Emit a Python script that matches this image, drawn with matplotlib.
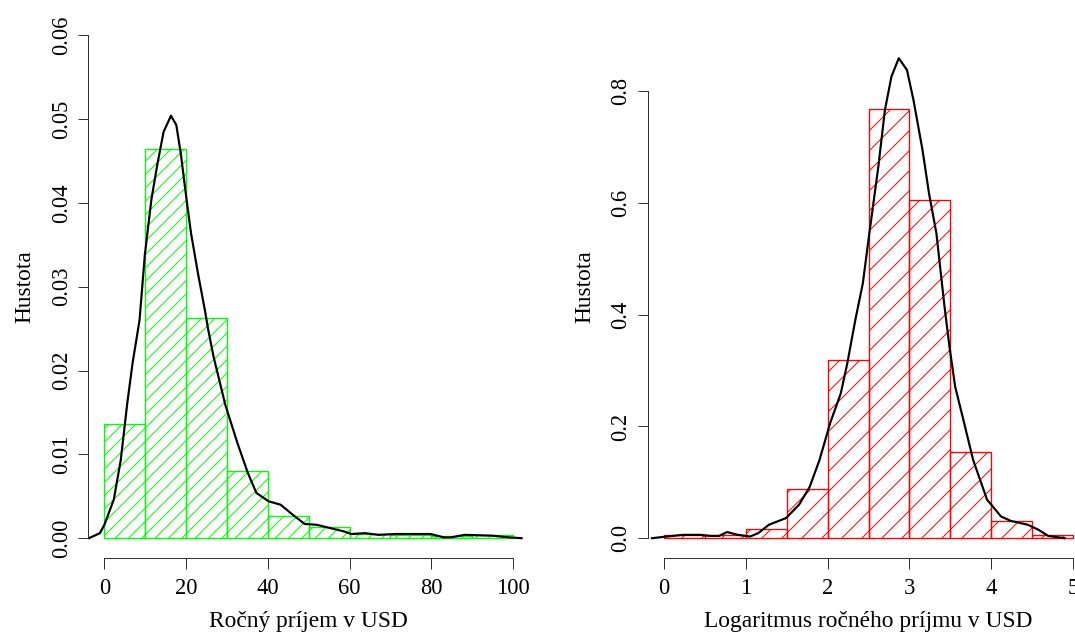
import numpy as np
from matplotlib import pyplot as plt

plt.rcParams['font.family'] = ['Liberation Serif', 'DejaVu Serif']
plt.rcParams['hatch.linewidth'] = 0.6

# histogram bins and densities
bins_inc = [0, 10, 20, 30, 40, 50, 60, 70, 80, 90, 100]
dens_inc = [0.0136, 0.04646, 0.02632, 0.00803, 0.0027, 0.00131, 0.0005, 0.0004, 0.0003, 0.0004]

bins_log = [0, 0.5, 1.0, 1.5, 2.0, 2.5, 3.0, 3.5, 4.0, 4.5, 5.0]
dens_log = [0.005, 0.005, 0.016, 0.0877, 0.3184, 0.768, 0.605, 0.1538, 0.031, 0.0054]

# kernel density curves
kde_inc_x = [-3.8, -1.1, 0, 2.3, 4.0, 5.6, 6.9, 8.6, 9.9, 11.5, 13.0, 14.5, 16.3, 17.6, 18.7,
             20.0, 21.2, 22.9, 24.6, 25.4, 26.7, 29.6, 32.6, 35.1, 37.2, 40.2, 43.1, 46.1,
             49.0, 52.0, 55.3, 58.7, 60.4, 63.8, 67.1, 71.4, 79.8, 83.1, 84.8, 88.2, 94.9,
             99.1, 102.1]
kde_inc_y = [0, 0.0006, 0.0016, 0.0046, 0.0093, 0.0161, 0.0209, 0.0260, 0.0338, 0.0404,
             0.0447, 0.0485, 0.0504, 0.0493, 0.0459, 0.0408, 0.0364, 0.0316, 0.0272, 0.0249,
             0.0217, 0.0159, 0.0113, 0.0078, 0.0054, 0.0044, 0.0040, 0.0028, 0.0017, 0.0016,
             0.0012, 0.0008, 0.0005, 0.0006, 0.0004, 0.0005, 0.0005, 0.0001, 0.0001, 0.0004,
             0.0003, 0.0001, 0]

kde_log_x = [-0.15, 0.03, 0.23, 0.44, 0.57, 0.67, 0.77, 0.90, 1.05, 1.15, 1.28, 1.49, 1.65,
             1.78, 1.90, 2.03, 2.16, 2.24, 2.34, 2.43, 2.51, 2.62, 2.70, 2.78, 2.87, 2.97,
             3.05, 3.16, 3.24, 3.33, 3.43, 3.49, 3.56, 3.66, 3.78, 3.95, 4.12, 4.24, 4.45,
             4.58, 4.70, 4.90]
kde_log_y = [0, 0.003, 0.006, 0.006, 0.004, 0.004, 0.011, 0.006, 0.003, 0.009, 0.024, 0.036,
             0.060, 0.092, 0.140, 0.206, 0.259, 0.313, 0.392, 0.456, 0.546, 0.665, 0.766,
             0.826, 0.859, 0.838, 0.784, 0.695, 0.617, 0.546, 0.414, 0.343, 0.271, 0.212,
             0.140, 0.069, 0.039, 0.031, 0.024, 0.015, 0.004, 0]

xt_inc = [0, 20, 40, 60, 80, 100]
yt_inc = [0.00, 0.01, 0.02, 0.03, 0.04, 0.05, 0.06]
xt_log = [0, 1, 2, 3, 4, 5]
yt_log = [0.0, 0.2, 0.4, 0.6, 0.8]

fig = plt.figure(figsize=(1075 / 120, 638 / 120), dpi=120)
ax1 = fig.add_axes([0.0819, 0.1249, 0.4105, 0.8513])
ax2 = fig.add_axes([0.6027, 0.1249, 0.4105, 0.8513])


def panel(ax, bins, dens, kx, ky, color, hatch, xt, yt, ylabels, xlabel, xlim, ylim):
    left = np.array(bins[:-1])
    width = np.diff(bins)
    ax.bar(left, dens, width=width, align='edge', fill=False, edgecolor=color,
           hatch=hatch, linewidth=0.8)
    ax.plot(kx, ky, color='black', linewidth=1.3, solid_joinstyle='round')
    ax.set_xlim(*xlim)
    ax.set_ylim(*ylim)
    ax.spines['top'].set_visible(False)
    ax.spines['right'].set_visible(False)
    for s in ['left', 'bottom']:
        ax.spines[s].set_linewidth(0.6)
        ax.spines[s].set_color('#333333')
    ax.spines['bottom'].set_bounds(xt[0], xt[-1])
    ax.spines['left'].set_bounds(yt[0], yt[-1])
    ax.set_xticks(xt)
    ax.set_yticks(yt)
    ax.set_yticklabels(ylabels, rotation=90, va='center')
    ax.tick_params(length=6.3, width=0.6, color='#333333', labelsize=13.5, pad=3.5)
    ax.tick_params(axis='x', pad=5.5)
    ax.set_xlabel(xlabel, fontsize=14, labelpad=7)
    ax.set_ylabel('Hustota', fontsize=14, labelpad=9)


panel(ax1, bins_inc, dens_inc, kde_inc_x, kde_inc_y, '#00ff00', '///', xt_inc, yt_inc,
      ['%.2f' % v for v in yt_inc], 'Ročný príjem v USD', (-4, 104), (-0.0024, 0.0624))
panel(ax2, bins_log, dens_log, kde_log_x, kde_log_y, '#ff0000', '//', xt_log, yt_log,
      ['%.1f' % v for v in yt_log], 'Logaritmus ročného príjmu v USD', (-0.2, 5.2), (-0.036, 0.936))

plt.savefig('out.png', dpi=120)
